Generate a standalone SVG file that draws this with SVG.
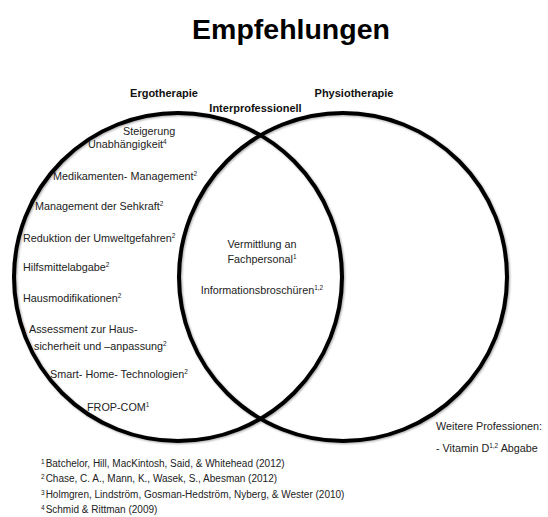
<svg xmlns="http://www.w3.org/2000/svg" width="548" height="517" viewBox="0 0 548 517">
  <style>
    text { font-family: "Liberation Sans", Arial, sans-serif; }
    .title { font-size: 28.5px; font-weight: bold; fill: #000; }
    .head { font-size: 11px; font-weight: bold; fill: #111; }
    .item { font-size: 10.8px; fill: #222; }
    .ref { font-size: 10px; fill: #222; }
    .sup { font-size: 6.5px; }
    .ring { fill: none; stroke: #000; stroke-width: 4; }
  </style>
  <defs>
    <filter id="soft" x="-5%" y="-5%" width="110%" height="110%">
      <feGaussianBlur in="SourceAlpha" stdDeviation="1"/>
      <feOffset dx="0.8" dy="1" result="sh"/>
      <feComponentTransfer><feFuncA type="linear" slope="0.35"/></feComponentTransfer>
      <feMerge><feMergeNode/><feMergeNode in="SourceGraphic"/></feMerge>
    </filter>
  </defs>

  <rect width="548" height="517" fill="#fff"/>

  <text class="title" x="291" y="39" text-anchor="middle">Empfehlungen</text>

  <!-- Venn circles -->
  <g id="circles" filter="url(#soft)">
    <circle id="ergo-ring" class="ring" cx="178" cy="277" r="164"/>
    <circle id="physio-ring" class="ring" cx="343" cy="277" r="164"/>
  </g>

  <!-- Set headings -->
  <g id="headings">
    <text class="head" x="164" y="97" text-anchor="middle">Ergotherapie</text>
    <text class="head" x="255.5" y="112" text-anchor="middle">Interprofessionell</text>
    <text class="head" x="354" y="97" text-anchor="middle">Physiotherapie</text>
  </g>

  <!-- Ergotherapie items -->
  <g id="ergo">
    <text class="item" x="123" y="135">Steigerung</text>
    <text class="item" x="88" y="148">Unabhängigkeit<tspan class="sup" dy="-4">4</tspan></text>
    <text class="item" x="53" y="180">Medikamenten- Management<tspan class="sup" dy="-4">2</tspan></text>
    <text class="item" x="35" y="210">Management der Sehkraft<tspan class="sup" dy="-4">2</tspan></text>
    <text class="item" x="23" y="242">Reduktion der Umweltgefahren<tspan class="sup" dy="-4">2</tspan></text>
    <text class="item" x="23" y="271">Hilfsmittelabgabe<tspan class="sup" dy="-4">2</tspan></text>
    <text class="item" x="23" y="302">Hausmodifikationen<tspan class="sup" dy="-4">2</tspan></text>
    <text class="item" x="29" y="333">Assessment zur Haus-</text>
    <text class="item" x="34" y="350">sicherheit und –anpassung<tspan class="sup" dy="-4">2</tspan></text>
    <text class="item" x="50" y="378">Smart- Home- Technologien<tspan class="sup" dy="-4">2</tspan></text>
    <text class="item" x="87" y="411">FROP-COM<tspan class="sup" dy="-4">1</tspan></text>
  </g>

  <!-- Shared items -->
  <g id="inter">
    <text class="item" x="262" y="248" text-anchor="middle">Vermittlung an</text>
    <text class="item" x="262" y="263" text-anchor="middle">Fachpersonal<tspan class="sup" dy="-4">1</tspan></text>
    <text class="item" x="262" y="294" text-anchor="middle">Informationsbroschüren<tspan class="sup" dy="-4">1,2</tspan></text>
  </g>

  <!-- Other professions -->
  <g id="weitere">
    <text class="item" x="436" y="430">Weitere Professionen:</text>
    <text class="item" x="436" y="452">- Vitamin D<tspan class="sup" dy="-4">1,2</tspan><tspan dy="4"> Abgabe</tspan></text>
  </g>

  <!-- References -->
  <g id="refs">
    <text class="ref" x="41" y="467"><tspan class="sup" dy="-3.5">1</tspan><tspan dy="3.5" dx="1">Batchelor, Hill, MacKintosh, Said, &amp; Whitehead (2012)</tspan></text>
    <text class="ref" x="41" y="482"><tspan class="sup" dy="-3.5">2</tspan><tspan dy="3.5" dx="1">Chase, C. A., Mann, K., Wasek, S., Abesman (2012)</tspan></text>
    <text class="ref" x="41" y="498"><tspan class="sup" dy="-3.5">3</tspan><tspan dy="3.5" dx="1">Holmgren, Lindström, Gosman-Hedström, Nyberg, &amp; Wester (2010)</tspan></text>
    <text class="ref" x="41" y="513"><tspan class="sup" dy="-3.5">4</tspan><tspan dy="3.5" dx="1">Schmid &amp; Rittman (2009)</tspan></text>
  </g>
</svg>
